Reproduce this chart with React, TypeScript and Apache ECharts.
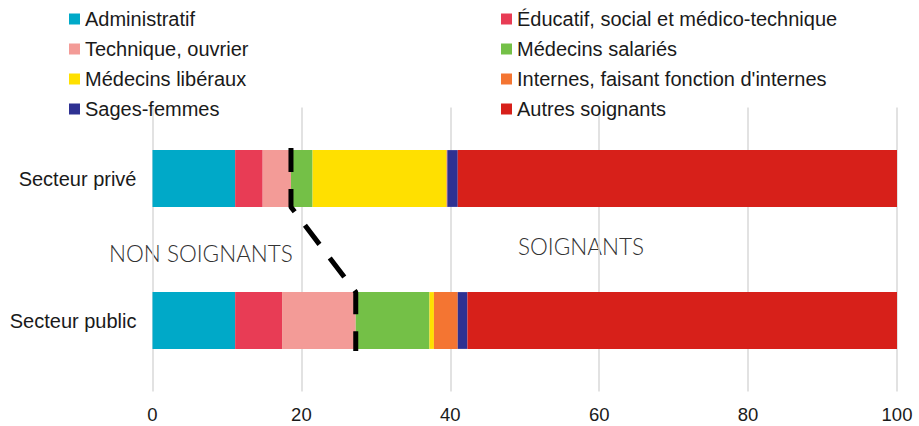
import React, { useEffect, useRef } from "react";
import * as echarts from "echarts";

const categories = ["Secteur public", "Secteur privé"];
const seriesNames = [
  "Administratif",
  "Éducatif, social et médico-technique",
  "Technique, ouvrier",
  "Médecins salariés",
  "Médecins libéraux",
  "Internes, faisant fonction d'internes",
  "Sages-femmes",
  "Autres soignants",
];
const seriesColors = [
  "#00A9C8",
  "#E83C55",
  "#F39B97",
  "#74C047",
  "#FFE000",
  "#F47532",
  "#2E3192",
  "#D7201A",
];
// values in %, same order as seriesNames
const publicValues = [11.1, 6.3, 9.9, 9.9, 0.6, 3.2, 1.3, 57.7];
const privateValues = [11.1, 3.7, 3.8, 2.9, 18.0, 0.1, 1.4, 59.0];
const nonSoignantCount = 3; // first three groups are non-soignants
const leftLegend = [seriesNames[0], seriesNames[2], seriesNames[4], seriesNames[6]];
const rightLegend = [seriesNames[1], seriesNames[3], seriesNames[5], seriesNames[7]];

const sum = (a: number[]) => a.reduce((s, v) => s + v, 0);

export default function App() {
  const ref = useRef<HTMLDivElement>(null);
  useEffect(() => {
    if (!ref.current) return;
    const chart = echarts.init(ref.current, null, { renderer: "svg" });
    const pubB = sum(publicValues.slice(0, nonSoignantCount));
    const privB = sum(privateValues.slice(0, nonSoignantCount));
    const font = "Liberation Sans";
    const legendBase = {
      orient: "vertical" as const,
      top: 9,
      padding: 0,
      itemWidth: 11,
      itemHeight: 11,
      itemGap: 10,
      icon: "rect",
      textStyle: { fontSize: 20, lineHeight: 20, color: "#1a1a1a", fontFamily: font },
    };
    chart.setOption({
      animation: false,
      textStyle: { fontFamily: font },
      legend: [
        { ...legendBase, left: 69, data: leftLegend },
        { ...legendBase, left: 501, data: rightLegend },
      ],
      grid: { left: 152.5, right: 22, top: 107.5, bottom: 34.5 },
      xAxis: {
        type: "value",
        min: 0,
        max: 100,
        interval: 20,
        axisLine: { show: false },
        axisTick: { show: false },
        splitLine: { show: true, lineStyle: { color: "#d9d9d9", width: 1.5 } },
        axisLabel: { fontSize: 18.5, color: "#1a1a1a", fontFamily: font, margin: 13 },
      },
      yAxis: [
        {
          type: "category",
          data: categories,
          axisLine: { show: false },
          axisTick: { show: false },
          axisLabel: { fontSize: 20, color: "#1a1a1a", fontFamily: font, margin: 16 },
        },
        { type: "value", min: 0, max: 2, show: false },
      ],
      series: [
        ...seriesNames.map((name, i) => ({
          name,
          type: "bar",
          stack: "total",
          barWidth: "40%",
          itemStyle: { color: seriesColors[i] },
          data: [publicValues[i], privateValues[i]],
        })),
        {
          type: "line",
          yAxisIndex: 1,
          silent: true,
          showSymbol: false,
          symbol: "none",
          lineStyle: { color: "#000", width: 5, type: [24, 17], cap: "butt" },
          data: [
            [privB, 1.715],
            [privB, 1.3],
            [pubB, 0.7],
            [pubB, 0.285],
          ],
          z: 10,
        },
      ],
      graphic: [
        {
          type: "text",
          left: 109,
          top: 242,
          silent: true,
          style: { text: "NON SOIGNANTS", fontSize: 22.5, fontFamily: "Lato", fontWeight: 300, fill: "#333" },
        },
        {
          type: "text",
          left: 518,
          top: 235,
          silent: true,
          style: { text: "SOIGNANTS", fontSize: 22.5, fontFamily: "Lato", fontWeight: 300, fill: "#333" },
        },
      ],
    });
    return () => chart.dispose();
  }, []);
  return (
    <div
      ref={ref}
      style={{ position: "absolute", left: 0, top: 0, width: 919, height: 426 }}
    />
  );
}
